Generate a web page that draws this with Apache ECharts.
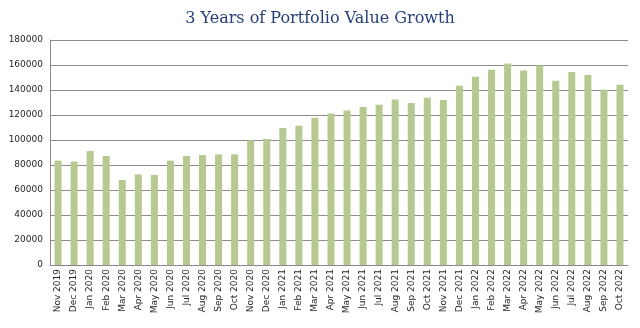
<!DOCTYPE html>
<html>
<head>
<meta charset="utf-8">
<script src="https://cdn.jsdelivr.net/npm/echarts@6/dist/echarts.min.js"></script>
<style>
  html, body { margin: 0; padding: 0; background: #ffffff; }
  #chart { width: 640px; height: 328px; }
</style>
</head>
<body>
<div id="chart"></div>
<script>
// Month labels along the horizontal axis
const months = [
  'Nov 2019', 'Dec 2019',
  'Jan 2020', 'Feb 2020', 'Mar 2020', 'Apr 2020', 'May 2020', 'Jun 2020',
  'Jul 2020', 'Aug 2020', 'Sep 2020', 'Oct 2020', 'Nov 2020', 'Dec 2020',
  'Jan 2021', 'Feb 2021', 'Mar 2021', 'Apr 2021', 'May 2021', 'Jun 2021',
  'Jul 2021', 'Aug 2021', 'Sep 2021', 'Oct 2021', 'Nov 2021', 'Dec 2021',
  'Jan 2022', 'Feb 2022', 'Mar 2022', 'Apr 2022', 'May 2022', 'Jun 2022',
  'Jul 2022', 'Aug 2022', 'Sep 2022', 'Oct 2022'
];

// Portfolio value at each month
const portfolioValue = [
  83500, 82700,
  91200, 87200, 68000, 72500, 72000, 83500,
  87200, 88000, 88500, 88500, 99700, 100800,
  109600, 111500, 117900, 121300, 123700, 126400,
  128300, 132500, 129600, 133900, 132000, 143500,
  150700, 156300, 161300, 155700, 159700, 147500,
  154400, 152000, 140300, 144300
];

// Value axis range
const valueMin = 0;
const valueMax = 180000;
const valueStep = 20000;

const chart = echarts.init(document.getElementById('chart'), null, { renderer: 'canvas' });

chart.setOption({
  animation: false,
  backgroundColor: '#ffffff',
  title: {
    text: '3 Years of Portfolio Value Growth',
    left: 'center',
    top: 6,
    textStyle: {
      fontFamily: 'DejaVu Serif',
      fontWeight: 'normal',
      fontSize: 16,
      color: '#243f7a'
    }
  },
  grid: { left: 50, right: 12, top: 40, bottom: 63, containLabel: false },
  xAxis: {
    type: 'category',
    data: months,
    axisLine: { show: true, lineStyle: { color: '#8a8a8a', width: 1 } },
    axisTick: { show: false },
    axisLabel: {
      interval: 0,
      rotate: 90,
      margin: 4,
      fontFamily: 'DejaVu Sans',
      fontSize: 9,
      color: '#262626'
    }
  },
  yAxis: {
    type: 'value',
    min: valueMin,
    max: valueMax,
    interval: valueStep,
    axisLine: { show: true, lineStyle: { color: '#8a8a8a', width: 1 } },
    axisTick: { show: false },
    splitLine: { show: true, lineStyle: { color: '#8c8c8c', width: 1 } },
    axisLabel: {
      margin: 7,
      fontFamily: 'DejaVu Sans',
      fontSize: 9,
      color: '#262626',
      formatter: (v) => String(v)
    }
  },
  series: [{
    type: 'bar',
    data: portfolioValue,
    barWidth: 7,
    itemStyle: { color: '#b5c990' }
  }]
});
</script>
</body>
</html>
